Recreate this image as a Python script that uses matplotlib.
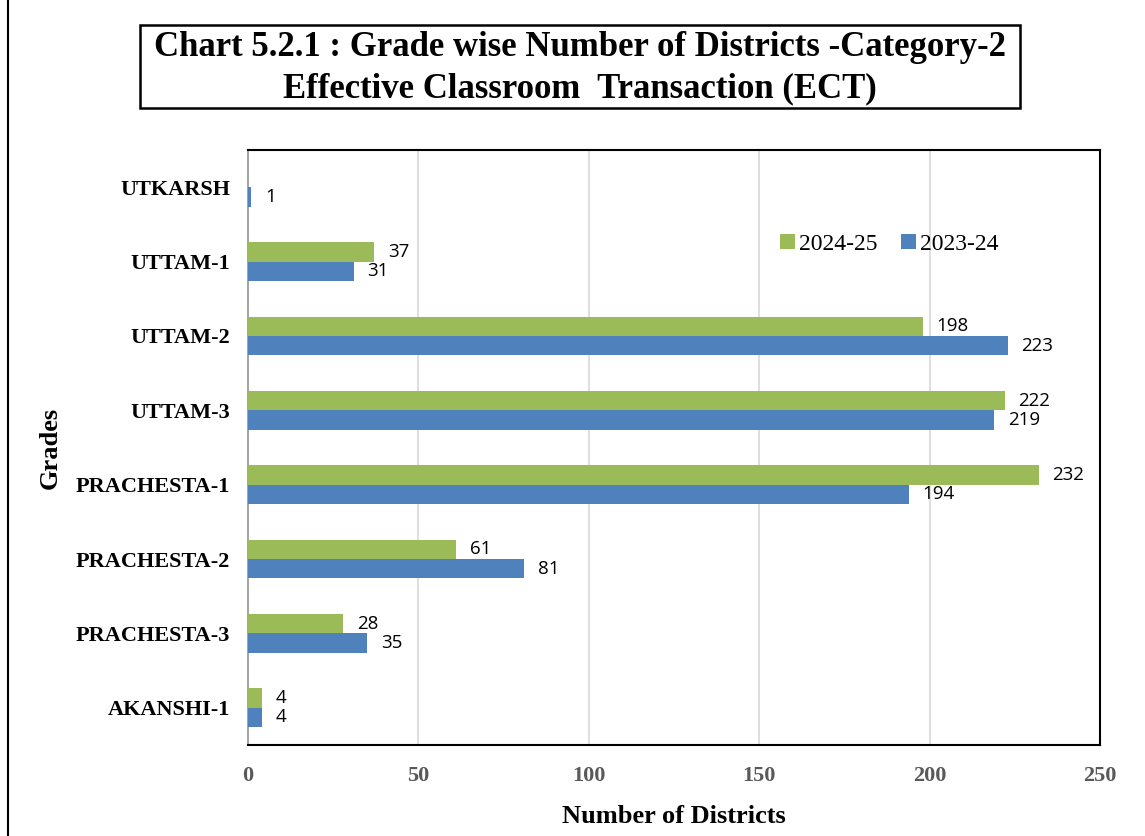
import numpy as np
import matplotlib.pyplot as plt
from matplotlib.patches import Rectangle
from matplotlib.lines import Line2D

# data
grades = ['UTKARSH', 'UTTAM-1', 'UTTAM-2', 'UTTAM-3',
          'PRACHESTA-1', 'PRACHESTA-2', 'PRACHESTA-3', 'AKANSHI-1']
y2024_25 = [0, 37, 198, 222, 232, 61, 28, 4]
y2023_24 = [1, 31, 223, 219, 194, 81, 35, 4]

green = '#9BBB59'
blue = '#4F81BD'
serif = 'Liberation Serif'

fig = plt.figure(figsize=(11.45, 8.36), dpi=100)
ax = fig.add_axes([0.2166, 0.1089, 0.7441, 0.7117])

pos = np.arange(len(grades))
h = 0.26
ax.barh(pos - h / 2, y2024_25, height=h, color=green, label='2024-25', zorder=3)
ax.barh(pos + h / 2, y2023_24, height=h, color=blue, label='2023-24', zorder=3)

# data labels (no label for the empty 2024-25 UTKARSH bar)
for p, v in zip(pos, y2024_25):
    if v > 0:
        ax.text(v + 4, p - h / 2, str(v), va='center', ha='left',
                fontsize=13.5, family='Open Sans', zorder=4)
for p, v in zip(pos, y2023_24):
    ax.text(v + 4, p + h / 2, str(v), va='center', ha='left',
            fontsize=13.5, family='Open Sans', zorder=4)

ax.set_xlim(0, 250)
ax.set_ylim(len(grades) - 0.5, -0.5)
ax.set_xticks(range(0, 251, 50))
ax.set_yticks(pos)
ax.set_yticklabels(grades, fontsize=16, fontweight='bold', family=serif)
for t in ax.get_xticklabels():
    t.set_fontsize(16)
    t.set_fontweight('bold')
    t.set_family(serif)
    t.set_color('#595959')
ax.tick_params(axis='both', length=0)
ax.tick_params(axis='x', pad=15)
ax.tick_params(axis='y', pad=13)

ax.grid(axis='x', color='#D9D9D9', linewidth=1.2, zorder=0)
for s in ['top', 'right', 'bottom']:
    ax.spines[s].set_color('black')
    ax.spines[s].set_linewidth(1.5)
ax.spines['left'].set_color('#A6A6A6')
ax.spines['left'].set_linewidth(1.5)

ax.set_xlabel('Number of Districts', fontsize=19, fontweight='bold',
              family=serif, labelpad=14)
ax.set_ylabel('Grades', fontsize=19, fontweight='bold', family=serif, labelpad=10)

leg = ax.legend(loc='upper left', bbox_to_anchor=(0.6, 0.895), ncol=2, frameon=False,
                fontsize=17, handlelength=0.6,
                handleheight=0.6, handletextpad=0.2, columnspacing=1.0)
for t in leg.get_texts():
    t.set_family(serif)

# title box
fig.patches.append(Rectangle((140 / 1145, 1 - 108 / 836), 880 / 1145, 83 / 836,
                             transform=fig.transFigure, fill=False,
                             edgecolor='black', linewidth=1.8))
fig.text(580 / 1145, 1 - 48 / 836, 'Chart 5.2.1 : Grade wise Number of Districts -Category-2',
         ha='center', va='center', fontsize=25, fontweight='bold', family=serif)
fig.text(580 / 1145, 1 - 89 / 836, 'Effective Classroom  Transaction (ECT)',
         ha='center', va='center', fontsize=25, fontweight='bold', family=serif)

# outer frame left edge
fig.add_artist(Line2D([8 / 1145, 8 / 1145], [0, 1], transform=fig.transFigure,
                      color='black', linewidth=1.5))

fig.savefig('out.png', dpi=100)
